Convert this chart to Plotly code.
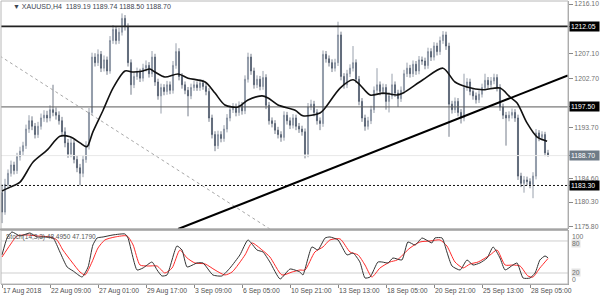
import plotly.graph_objects as go

# ---------------- data ----------------
O = [1182.0,1178.5,1183.5,1185.5,1187.0,1186.0,1188.5,1189.5,1190.5,1193.5,1195.0,1194.0,1192.5,1194.0,1195.5,1196.0,
     1195.5,1197.0,1196.5,1196.0,1195.0,1193.0,1191.0,1189.0,1191.0,1188.0,1186.5,1185.5,1188.0,1190.5,1196.5,1206.5,
     1205.5,1207.0,1204.5,1206.0,1204.0,1209.5,1211.5,1209.5,1211.0,1213.5,1212.0,1205.5,1201.5,1203.0,1203.8,1202.7,
     1204.5,1205.0,1203.5,1206.5,1202.0,1199.5,1201.0,1200.3,1201.5,1200.5,1205.0,1207.5,1203.0,1201.5,1200.5,1199.5,
     1201.0,1201.5,1201.0,1201.8,1201.2,1200.3,1195.5,1192.5,1190.5,1192.5,1191.8,1193.5,1195.5,1197.0,1197.5,1196.5,
     1197.8,1196.8,1202.5,1206.5,1204.0,1201.5,1202.5,1201.2,1202.8,1197.8,1195.0,1194.5,1193.3,1192.5,1192.0,1196.0,
     1195.0,1194.2,1195.5,1194.0,1193.5,1193.0,1189.0,1197.5,1198.0,1196.5,1195.0,1194.5,1207.0,1206.2,1205.5,1204.5,
     1205.5,1210.5,1203.0,1201.5,1203.5,1204.5,1205.5,1202.5,1198.5,1195.5,1194.0,1195.0,1197.0,1200.5,1201.5,1200.3,
     1201.0,1198.5,1199.5,1201.5,1200.0,1199.0,1200.5,1203.5,1204.5,1203.5,1205.2,1204.0,1206.0,1205.8,1205.0,1207.5,
     1206.5,1208.5,1207.5,1209.5,1210.5,1208.5,1198.0,1197.0,1198.5,1196.5,1195.5,1201.0,1202.0,1200.3,1199.5,1198.8,
     1199.8,1201.0,1202.3,1201.5,1202.2,1202.8,1201.0,1197.5,1196.0,1195.5,1196.0,1196.5,1195.5,1185.0,1183.7,1184.3,
     1184.0,1183.5,1185.0,1192.8,1192.0,1192.5,1189.19]
H = [1183.5,1184.5,1186.2,1187.8,1187.6,1189.2,1190.3,1191.2,1194.3,1196.0,1195.8,1194.6,1194.8,1196.3,1196.9,1196.8,
     1197.8,1201.5,1197.4,1196.7,1195.7,1193.8,1191.7,1192.0,1191.6,1188.7,1187.2,1188.8,1191.3,1197.3,1207.3,1207.2,
     1207.9,1207.6,1206.8,1206.6,1210.3,1212.3,1212.1,1211.8,1214.4,1214.1,1212.6,1206.1,1203.8,1204.6,1204.4,1205.3,
     1205.9,1205.6,1207.6,1207.1,1202.6,1201.7,1201.6,1202.2,1202.1,1205.8,1209.0,1208.1,1203.6,1202.1,1201.1,1201.7,
     1202.2,1202.1,1202.5,1202.4,1201.8,1200.9,1196.1,1193.1,1193.2,1193.1,1194.2,1196.2,1197.7,1198.2,1198.1,1198.5,
     1198.4,1203.2,1207.3,1207.1,1204.6,1203.2,1203.1,1204.0,1203.4,1198.4,1195.6,1195.1,1193.9,1193.1,1196.7,1196.6,
     1195.6,1196.2,1196.1,1194.6,1194.1,1193.6,1198.2,1198.8,1198.6,1197.1,1195.6,1207.7,1207.6,1206.8,1206.1,1206.2,
     1212.9,1211.1,1203.6,1204.2,1205.2,1208.5,1206.1,1203.1,1199.1,1196.1,1195.7,1197.7,1201.2,1204.5,1202.1,1201.7,
     1201.6,1200.2,1203.5,1202.1,1200.6,1201.2,1204.2,1205.5,1205.1,1205.9,1205.8,1206.7,1206.6,1206.4,1208.2,1208.1,
     1209.2,1209.1,1210.2,1211.2,1211.1,1209.1,1198.6,1199.2,1199.1,1197.1,1203.5,1202.7,1202.6,1200.9,1200.1,1200.5,
     1201.7,1203.5,1202.9,1202.9,1203.5,1203.4,1201.6,1198.1,1196.6,1196.7,1197.2,1197.1,1196.1,1185.6,1185.0,1184.9,
     1184.6,1185.7,1193.5,1193.3,1193.1,1193.0,1189.74]
L = [1176.5,1178.0,1182.8,1184.9,1185.3,1185.4,1187.8,1188.7,1189.9,1192.8,1193.3,1191.8,1191.9,1193.4,1194.8,1194.7,
     1194.9,1195.8,1195.2,1194.3,1192.3,1190.2,1188.3,1188.4,1187.3,1185.7,1183.3,1184.8,1187.4,1189.8,1196.0,1204.8,
     1204.9,1203.8,1203.9,1203.3,1203.5,1208.9,1208.8,1208.9,1210.4,1211.3,1204.8,1199.7,1200.9,1202.4,1202.0,1202.1,
     1203.9,1202.8,1202.9,1201.3,1198.8,1196.3,1199.6,1199.7,1199.8,1199.9,1204.4,1202.3,1200.8,1199.8,1195.8,1198.9,
     1200.4,1200.4,1200.4,1200.6,1199.6,1194.8,1191.8,1189.5,1189.9,1191.1,1191.2,1192.9,1194.9,1196.4,1195.8,1195.9,
     1196.1,1196.2,1201.9,1203.3,1200.8,1200.9,1200.5,1200.6,1197.1,1194.3,1193.8,1192.6,1191.8,1191.2,1191.4,1194.3,
     1193.5,1193.6,1193.3,1192.8,1192.3,1188.2,1188.4,1196.9,1195.8,1194.3,1193.3,1193.9,1205.5,1204.8,1203.8,1203.9,
     1204.9,1202.3,1200.8,1200.9,1202.9,1203.9,1201.8,1197.8,1194.8,1193.2,1193.4,1194.4,1196.4,1199.9,1199.6,1199.7,
     1197.0,1196.5,1198.9,1199.3,1197.5,1198.4,1199.9,1202.9,1202.8,1202.9,1203.3,1203.4,1205.1,1204.3,1204.4,1205.8,
     1205.9,1206.8,1206.9,1208.9,1207.8,1192.1,1196.3,1196.4,1195.8,1194.5,1194.9,1200.4,1199.6,1198.8,1198.1,1198.2,
     1199.2,1200.4,1200.8,1200.9,1201.6,1200.3,1196.8,1195.3,1190.5,1194.9,1195.4,1194.8,1184.3,1183.0,1182.0,1183.3,
     1182.8,1181.0,1184.4,1191.3,1191.4,1188.6,1188.50]
C = [1178.5,1183.5,1185.5,1187.0,1186.0,1188.5,1189.5,1190.5,1193.5,1195.0,1194.0,1192.5,1194.0,1195.5,1196.0,1195.5,
     1197.0,1196.5,1196.0,1195.0,1193.0,1191.0,1189.0,1191.0,1188.0,1186.5,1185.5,1188.0,1190.5,1196.5,1206.5,1205.5,
     1207.0,1204.5,1206.0,1204.0,1209.5,1211.5,1209.5,1211.0,1213.5,1212.0,1205.5,1201.5,1203.0,1203.8,1202.7,1204.5,
     1205.0,1203.5,1206.5,1202.0,1199.5,1201.0,1200.3,1201.5,1200.5,1205.0,1207.5,1203.0,1201.5,1200.5,1199.5,1201.0,
     1201.5,1201.0,1201.8,1201.2,1200.3,1195.5,1192.5,1190.5,1192.5,1191.8,1193.5,1195.5,1197.0,1197.5,1196.5,1197.8,
     1196.8,1202.5,1206.5,1204.0,1201.5,1202.5,1201.2,1202.8,1197.8,1195.0,1194.5,1193.3,1192.5,1192.0,1196.0,1195.0,
     1194.2,1195.5,1194.0,1193.5,1193.0,1189.0,1197.5,1198.0,1196.5,1195.0,1194.5,1207.0,1206.2,1205.5,1204.5,1205.5,
     1210.5,1203.0,1201.5,1203.5,1204.5,1205.5,1202.5,1198.5,1195.5,1194.0,1195.0,1197.0,1200.5,1201.5,1200.3,1201.0,
     1198.5,1199.5,1201.5,1200.0,1199.0,1200.5,1203.5,1204.5,1203.5,1205.2,1204.0,1206.0,1205.8,1205.0,1207.5,1206.5,
     1208.5,1207.5,1209.5,1210.5,1208.5,1198.0,1197.0,1198.5,1196.5,1195.5,1201.0,1202.0,1200.3,1199.5,1198.8,1199.8,
     1201.0,1202.3,1201.5,1202.2,1202.8,1201.0,1197.5,1196.0,1195.5,1196.0,1196.5,1195.5,1185.0,1183.7,1184.3,1184.0,
     1183.5,1185.0,1192.8,1192.0,1192.5,1189.19,1188.70]
bar_idx = list(range(len(C)))

# moving average, bar index / price
ma_x = [0, 2.7, 6, 10.3, 15, 19.3, 22.7, 26, 28.3, 30.3, 33.7, 37, 41, 43.7, 47, 49.3, 51, 54.3, 58.7, 62, 67.7,
        71, 74.3, 78.7, 82, 86.7, 88.7, 92, 97.7, 100.3, 106, 107.7, 112.7, 117, 119.3, 122.7, 127, 131.7, 133.7,
        140.3, 147, 151, 155, 160.3, 166, 169.3, 171.7, 175, 178.3, 181.7]
ma_y = [1182.3, 1183.0, 1183.9, 1187.5, 1189.7, 1192.2, 1192.1, 1191.0, 1190.3, 1193.0, 1196.9, 1200.9, 1204.0,
        1203.8, 1204.0, 1204.35, 1203.8, 1202.9, 1203.45, 1202.7, 1202.0, 1200.0, 1197.85, 1197.5, 1198.75, 1199.5,
        1199.1, 1197.85, 1196.9, 1195.9, 1196.4, 1197.3, 1200.9, 1202.4, 1201.5, 1199.65, 1200.0, 1199.65, 1200.0,
        1202.4, 1204.5, 1202.0, 1201.1, 1200.6, 1200.9, 1199.3, 1198.2, 1194.6, 1192.1, 1191.3]

# stochastic %K (black) and %D (red)
k_x = [0, 1.7, 3.3, 6, 9.3, 11.7, 13.7, 17, 19.3, 21.7, 23.7, 26.7, 28.7, 30.3, 31.7, 33.7, 37, 41, 42, 45, 47, 50,
       51.7, 53.3, 55, 58.3, 60, 61.7, 65, 67, 70.3, 73.3, 76, 79.3, 82, 85, 87, 89.3, 92.7, 96, 99.3, 100.3, 103.3,
       105.3, 107.7, 109.3, 112, 115, 117, 119.3, 121, 122.7, 125.3, 126.7, 128.7, 130.3, 133.3, 135.3, 137.7, 140,
       142, 143.3, 144.3, 146.7, 148.3, 150, 152.7, 155, 157, 159.3, 161.7, 163.7, 166, 167.7, 170.3, 171.7, 173.7,
       176, 177.7, 179.3, 181, 182]
k_v = [54, 85.6, 96.9, 89.4, 95, 87.5, 87.5, 85.6, 59.4, 31.3, 23.8, 12.5, 31.3, 72.5, 85.6, 87.5, 91.3, 93.1, 85.6,
       25.6, 29.4, 40.6, 25.6, 14.4, 16.3, 70.6, 63.1, 31.3, 38.8, 38.8, 16.3, 14.4, 29.4, 53.8, 81.9, 63.1, 59.4,
       40.6, 8.8, 27.5, 21.9, 16.3, 68.8, 63.1, 85.6, 87.5, 81.9, 53.8, 57.5, 40.6, 10.6, 12.5, 40.6, 40.6, 38.8,
       48.1, 44.4, 78.1, 72.5, 85.6, 80, 76.3, 85.6, 85.6, 59.4, 33.1, 25.6, 44.4, 35, 38.8, 48.1, 68.8, 48.1, 25.6,
       35, 38.8, 10.6, 10.6, 20, 44.4, 51.9, 48.495]
d_x = [0, 2.7, 5, 8.3, 11.7, 16, 18.3, 20.3, 23.3, 26, 27.7, 30, 32, 34.3, 37.7, 41.7, 43.7, 46, 48.7, 51.7, 54.3,
       56.7, 59.3, 61.7, 64.3, 67.7, 71, 74.3, 76.7, 81, 83.3, 86.7, 89.3, 93.3, 96.7, 99.3, 101, 104.3, 107, 109.3,
       112.7, 116, 118.7, 121, 123.3, 126, 129.3, 131.7, 136, 139.3, 142.7, 146, 148.3, 151, 153.7, 156, 158.7,
       162.7, 165, 167.7, 170.3, 172.7, 175.3, 177, 179.3, 182]
d_v = [50, 72.5, 89.4, 91.3, 89.4, 87.5, 81.9, 63.1, 40.6, 21.9, 16.3, 40.6, 66.9, 81.9, 87.5, 89.4, 72.5, 35, 33.1,
       33.1, 20, 29.4, 63.1, 48.1, 38.8, 36.9, 25.6, 16.3, 21.9, 53.8, 76.3, 63.1, 50, 16.3, 21.9, 25.6, 25.6, 59.4,
       68.8, 81.9, 83.8, 59.4, 53.8, 35, 12.5, 29.4, 40.6, 44.4, 66.9, 78.1, 80, 81.9, 70.6, 40.6, 29.4, 36.9, 40.6,
       53.8, 63.1, 35, 35, 33.1, 14.4, 12.5, 29.4, 47.179]

# hand-drawn objects
trend_x = [58.7, 188.6]
trend_y = [1175.43, 1203.2]
diag_x = [-0.7, 89.3]
diag_y = [1206.7, 1175.43]
resist_top = 1212.05
resist_mid = 1197.50
support = 1183.30
last_price = 1188.70

price_ticks = [1216.10, 1207.10, 1202.70, 1193.70, 1184.60, 1180.30, 1175.80]
date_ticks = [0, 16, 32, 48, 64, 80, 96, 112, 128, 144, 160, 176]
date_labels = ['17 Aug 2018', '22 Aug 09:00', '27 Aug 01:00', '29 Aug 17:00', '3 Sep 09:00', '6 Sep 05:00',
               '10 Sep 21:00', '13 Sep 13:00', '18 Sep 05:00', '20 Sep 21:00', '25 Sep 13:00', '28 Sep 05:00']
title_text = '▼ XAUUSD,H4  1189.19 1189.74 1188.50 1188.70'
stoch_text = 'Stoch(14,3,3) 48.4950 47.1790'

# ---------------- layout geometry (pixels of the 600x300 page) ----------------
W, Hh = 600, 300
def px(x): return x / W
def py(y): return 1 - y / Hh
X0, X1 = 1, 568
MAIN_T, MAIN_B = 1, 229
ST_T, ST_B = 230.3, 284
xr = [(X0 - 2) / 3, (X1 - 2) / 3]
FONT = 'Liberation Sans'

fig = go.Figure()

def line_trace(x, y, color, width, dash=None, xa='x', ya='y', shape='linear', smoothing=None):
    ln = dict(color=color, width=width, shape=shape)
    if dash:
        ln['dash'] = dash
    if smoothing is not None:
        ln['smoothing'] = smoothing
    return go.Scatter(x=x, y=y, mode='lines', line=ln, hoverinfo='skip', xaxis=xa, yaxis=ya)

# horizontal levels (drawn first, under candles)
fig.add_trace(line_trace(xr, [last_price] * 2, '#e8e8e8', 1))
fig.add_trace(line_trace(xr, [resist_top] * 2, '#222222', 1.6))
fig.add_trace(line_trace(xr, [resist_mid] * 2, '#5a5a5a', 1))
fig.add_trace(line_trace(xr, [support] * 2, '#111111', 1, dash='2px,2px'))
fig.add_trace(line_trace(diag_x, diag_y, '#a8a8a8', 1, dash='3px,3px'))

fig.add_trace(go.Candlestick(
    x=bar_idx, open=O, high=H, low=L, close=C, xaxis='x', yaxis='y',
    increasing=dict(line=dict(color='#7d8898', width=0.8), fillcolor='#ccd2da'),
    decreasing=dict(line=dict(color='#505c6d', width=0.8), fillcolor='#566272'),
    whiskerwidth=0, hoverinfo='skip'))

fig.add_trace(line_trace(ma_x, ma_y, '#111111', 1.6, shape='spline', smoothing=0.8))
fig.add_trace(line_trace(trend_x, trend_y, '#000000', 2))

# stochastic panel
fig.add_trace(line_trace(xr, [80, 80], '#cfcfcf', 1, xa='x2', ya='y2'))
fig.add_trace(line_trace(xr, [20, 20], '#cfcfcf', 1, xa='x2', ya='y2'))
fig.add_trace(line_trace(d_x, d_v, '#ff2a2a', 1, xa='x2', ya='y2', shape='spline', smoothing=0.6))
fig.add_trace(line_trace(k_x, k_v, '#333333', 1, xa='x2', ya='y2', shape='spline', smoothing=0.5))

fig.update_layout(
    width=W, height=Hh, margin=dict(l=0, r=0, t=0, b=0, autoexpand=False),
    paper_bgcolor='white', plot_bgcolor='white', showlegend=False, boxgap=0.5,
    xaxis=dict(domain=[px(X0), px(X1)], range=xr, anchor='y', showticklabels=False, showgrid=False,
               zeroline=False, rangeslider=dict(visible=False), showline=False, fixedrange=True, automargin=False),
    yaxis=dict(domain=[py(MAIN_B), py(MAIN_T)], range=[1216.10 - (MAIN_B - 4) / 5.533, 1216.10 + 3 / 5.533],
               anchor='x', side='right', tickvals=price_ticks + [resist_top, resist_mid, support, last_price],
               ticktext=['%.2f' % v for v in price_ticks] + ['', '', '', ''],
               ticks='outside', ticklen=4, tickcolor='#888888', showline=True, linecolor='#a0a0a0', linewidth=1,
               tickfont=dict(family=FONT, size=6.8, color='#707070'), showgrid=False, zeroline=False,
               automargin=False),
    xaxis2=dict(domain=[px(X0), px(X1)], range=xr, anchor='y2', tickvals=date_ticks, ticktext=date_labels,
                ticks='outside', ticklen=3, tickcolor='#888888', ticklabelposition='outside right', tickangle=0,
                tickfont=dict(family=FONT, size=6.8, color='#505050'), showline=True, linecolor='#a0a0a0',
                showgrid=False, zeroline=False, automargin=False),
    yaxis2=dict(domain=[py(ST_B), py(ST_T)], range=[-0.6, 100], anchor='x2', side='right', showticklabels=False,
                ticks='', showline=True, linecolor='#a0a0a0', showgrid=False, zeroline=False, automargin=False),
)

shapes = [
    dict(type='rect', xref='paper', yref='paper', x0=px(X0), x1=px(X1), y0=py(MAIN_B), y1=py(MAIN_T),
         line=dict(color='#b8b8b8', width=1)),
    dict(type='rect', xref='paper', yref='paper', x0=px(X0), x1=px(X1), y0=py(ST_B), y1=py(ST_T),
         line=dict(color='#b8b8b8', width=1)),
    dict(type='rect', xref='paper', yref='paper', x0=px(0), x1=px(X1), y0=py(230.5), y1=py(228.5),
         line=dict(width=0), fillcolor='#a4a4a4'),
]
fig.update_layout(shapes=shapes)

ann = []
for v, bg in [(resist_top, '#000000'), (resist_mid, '#000000'), (support, '#000000'), (last_price, '#6f7b87')]:
    ann.append(dict(xref='paper', yref='y', x=px(569), y=v, xanchor='left', yanchor='middle', text='%.2f' % v,
                    showarrow=False, bgcolor=bg, font=dict(family=FONT, size=6.8, color='white'),
                    borderpad=1, width=27, align='left'))
ann.append(dict(xref='paper', yref='paper', x=px(11), y=py(7), xanchor='left', yanchor='middle', text=title_text,
                showarrow=False, font=dict(family=FONT, size=7, color='#3c4450')))
ann.append(dict(xref='paper', yref='paper', x=px(4), y=py(237), xanchor='left', yanchor='middle', text=stoch_text,
                showarrow=False, font=dict(family=FONT, size=6.5, color='#555555')))
for lab, yy, bg in [('100', 236, None), ('80', 243, '#e4e4e4'), ('20', 272, '#e4e4e4'), ('0', 279, None)]:
    d = dict(xref='paper', yref='paper', x=px(571), y=py(yy), xanchor='left', yanchor='middle', text=lab,
             showarrow=False, font=dict(family=FONT, size=6.8, color='#707070'), borderpad=0)
    if bg:
        d['bgcolor'] = bg
    ann.append(d)
fig.update_layout(annotations=ann)

fig.write_html('out.html')
